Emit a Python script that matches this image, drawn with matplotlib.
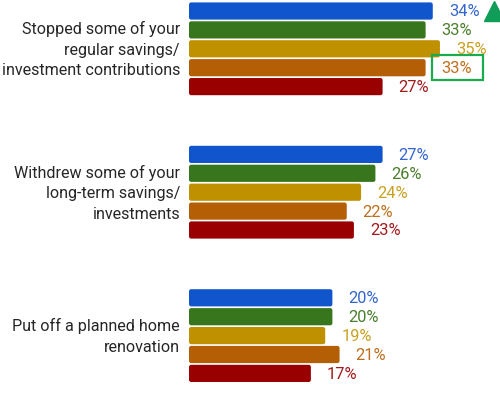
import matplotlib
matplotlib.use("Agg")
import matplotlib.pyplot as plt
from matplotlib.patches import Rectangle, FancyBboxPatch
from matplotlib.transforms import offset_copy

plt.rcParams['font.family'] = ['Roboto', 'DejaVu Sans']

categories = [
    "Stopped some of your\nregular savings/\ninvestment contributions",
    "Withdrew some of your\nlong-term savings/\ninvestments",
    "Put off a planned home\nrenovation",
]
series_colors = ["#1155cc", "#38761d", "#bf9000", "#b45f06", "#990000"]
label_colors = ["#3366cc", "#4a7f2c", "#c9a020", "#bf6f1e", "#a31a1a"]
values = [
    [34, 33, 35, 33, 27],
    [27, 26, 24, 22, 23],
    [20, 20, 19, 21, 17],
]
labels = [[f"{v}%" for v in row] for row in values]

# layout in pixels: group spacing, first group centre, x scale
GROUP_PX = 143.4
TOP_PX = 49.8
X_PX = 7.17

fig = plt.figure(figsize=(5.0, 4.06), dpi=100)
ax = fig.add_axes([189 / 500, 0, 311 / 500, 1])
ax.set_xlim(0, 311 / X_PX)
ax.set_ylim((406 - TOP_PX) / GROUP_PX, -TOP_PX / GROUP_PX)
ax.axis("off")

pitch = 18.9 / GROUP_PX
bar_h = 17.2 / GROUP_PX
radius_x = 2.2 / X_PX
aspect = (2.2 / GROUP_PX) / radius_x


def round_bars(container):
    """Swap plain bar rectangles for ones with slightly rounded corners."""
    for rect in container.patches:
        fancy = FancyBboxPatch((rect.get_x(), rect.get_y()), rect.get_width(),
                               rect.get_height(),
                               boxstyle=f"round,pad=0,rounding_size={radius_x}",
                               mutation_aspect=aspect,
                               facecolor=rect.get_facecolor(), edgecolor="none")
        rect.set_visible(False)
        ax.add_patch(fancy)


for g, (cat, row, lab) in enumerate(zip(categories, values, labels)):
    for k, (v, c, lc, t) in enumerate(zip(row, series_colors, label_colors, lab)):
        y = g + (k - 2) * pitch
        bars = ax.barh(y, v, height=bar_h, color=c, edgecolor="none")
        round_bars(bars)
        ax.annotate(t, (v, y), xytext=(16, 0), textcoords="offset pixels",
                    ha="left", va="center", color=lc, fontsize=11.8)
    ax.text(-9 / X_PX, g, cat, ha="right", va="center", fontsize=11.6,
            color="#262626", linespacing=1.45, clip_on=False)

# up-arrow marker after the first label of the first group
ax.plot([values[0][0]], [-2 * pitch], marker="^", markersize=14,
        color="#0f9d58", clip_on=False,
        transform=offset_copy(ax.transData, fig=fig, x=61, y=0, units="dots"))

# highlight box around the fourth label of the first group
ax.add_patch(Rectangle((values[0][3], 1 * pitch), 51 / X_PX, 25 / GROUP_PX,
                       fill=False, edgecolor="#1aab4f", linewidth=1.6,
                       clip_on=False,
                       transform=offset_copy(ax.transData, fig=fig, x=6, y=12.5,
                                             units="dots")))

fig.savefig("out.png", dpi=100)
